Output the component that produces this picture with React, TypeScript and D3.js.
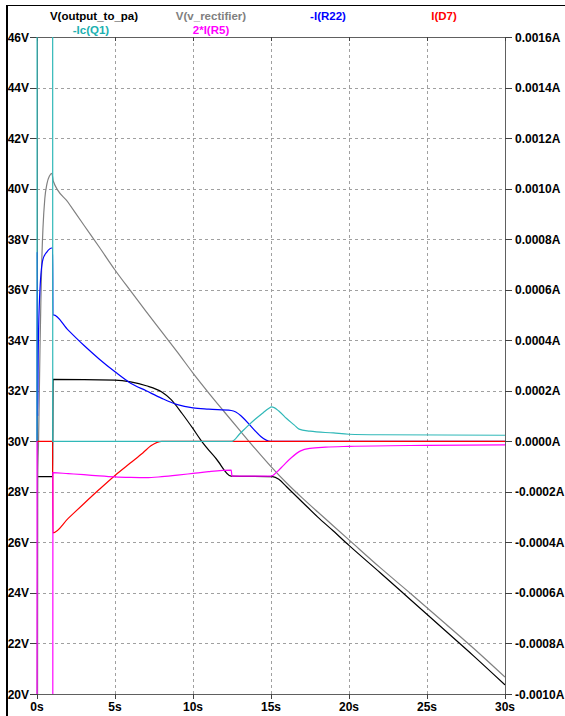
import React from "react";
import * as d3 from "d3";

// Transient simulation traces, time in seconds
const outputToPa: [number, number][] = [
  [0, 0], [0.03, 28.6], [1.0, 28.6], [1.03, 32.45], [5, 32.42], [6, 32.35], [7, 32.2],
  [8, 31.95], [8.6, 31.65], [9.3, 31.1], [10, 30.5], [10.5, 30.05], [11.5, 29.3],
  [12.45, 28.62], [15.1, 28.6], [15.5, 28.5], [16, 28.2], [17, 27.6], [18, 27.0],
  [19, 26.45], [20, 25.88], [22, 24.8], [24, 23.7], [26, 22.6], [28, 21.5], [30, 20.36],
];

const vRectifier: [number, number][] = [
  [0, 0], [0.05, 28.6], [0.1, 30], [0.19, 33.6], [0.25, 35.6], [0.31, 37.2], [0.38, 38.4],
  [0.5, 39.6], [0.64, 40.2], [0.8, 40.5], [0.96, 40.6], [1.04, 40.3], [2, 39.45],
  [3, 38.56], [4, 37.68], [5, 36.78], [6, 35.95], [7, 35.13], [8, 34.33], [9, 33.53],
  [10, 32.7], [11, 31.92], [12, 31.17], [13, 30.43], [14, 29.7], [15, 29.0], [16, 28.35],
  [17, 27.76], [18, 27.2], [19, 26.65], [20, 26.1], [22, 25.0], [24, 23.95], [26, 22.88],
  [28, 21.8], [30, 20.67],
];

const iR22Neg: [number, number][] = [
  [0, 0], [0.01, 0.00075], [0.04, 0.0001], [0.08, 0.00036], [0.19, 0.0006], [0.38, 0.00072],
  [0.64, 0.00075], [0.95, 0.000765], [1.0, 0.000765], [1.02, 0.0005], [1.05, 0.0005],
  [2, 0.00044], [3, 0.00038], [4, 0.000325], [5, 0.000275], [6, 0.00023], [7, 0.0002],
  [8, 0.00017], [9, 0.000145], [10, 0.000132], [11, 0.000127], [12.45, 0.000122],
  [15.0, 0], [30, 0],
];

const iD7: [number, number][] = [
  [0, 0], [1.0, 0], [1.02, -0.000362], [2, -0.000305], [3, -0.000247], [4, -0.00019],
  [5, -0.000135], [6, -0.000085], [6.8, -0.000045], [7.3, -0.000018], [7.7, -0.000004],
  [8.0, 0], [30, 0],
];

const icQ1Neg: [number, number][] = [
  [0, 0], [0.01, 0.003], [1.0, 0.003], [1.01, 0], [12.48, 0], [13.0, 0.00003],
  [13.5, 0.00006], [14.0, 0.000088], [14.5, 0.000113], [14.85, 0.00013], [15.04, 0.000136],
  [15.5, 0.00012], [16.0, 0.00009], [16.5, 0.000064], [16.8, 0.000048], [17.5, 0.00004],
  [19, 0.000033], [20, 0.000028], [22, 0.000026], [30, 0.000024],
];

const iR5x2: [number, number][] = [
  [0, 0], [0.01, -0.003], [1.0, -0.003], [1.02, -0.000124], [2, -0.000128], [3, -0.000132],
  [4, -0.000137], [5, -0.000141], [6, -0.000143], [7, -0.000144], [8, -0.00014],
  [9, -0.000134], [10, -0.000127], [11, -0.00012], [12.45, -0.000114], [12.5, -0.000138],
  [15.0, -0.000138], [15.4, -0.00012], [15.8, -0.000095], [16.3, -0.000065],
  [16.9, -0.000038], [17.5, -0.000028], [18.5, -0.000023], [20, -0.00002],
  [25, -0.000016], [30, -0.000014],
];

const voltTicks = [20, 22, 24, 26, 28, 30, 32, 34, 36, 38, 40, 42, 44, 46];
const ampTicks = [-0.001, -0.0008, -0.0006, -0.0004, -0.0002, 0, 0.0002, 0.0004, 0.0006, 0.0008, 0.001, 0.0012, 0.0014, 0.0016];
const timeTicks = [0, 5, 10, 15, 20, 25, 30];

const legendRow1 = [
  { label: "V(output_to_pa)", color: "#000000", cx: 94 },
  { label: "V(v_rectifier)", color: "#808080", cx: 211 },
  { label: "-I(R22)", color: "#0000ff", cx: 328 },
  { label: "I(D7)", color: "#ff0000", cx: 444 },
];
const legendRow2 = [
  { label: "-Ic(Q1)", color: "#20b0b0", cx: 91 },
  { label: "2*I(R5)", color: "#ff00ff", cx: 211 },
];

const W = 565;
const H = 716;
const L = 37;
const R = 505;
const T = 37;
const B = 694;
const FONT = "'Liberation Sans', Arial, sans-serif";

export default function App() {
  const x = d3.scaleLinear().domain([0, 30]).range([L, R]);
  const yV = d3.scaleLinear().domain([20, 46]).range([B, T]);
  const yA = d3.scaleLinear().domain([-0.001, 0.0016]).range([B, T]);

  const lineV = d3.line<[number, number]>().x((d) => x(d[0])).y((d) => yV(d[1])).curve(d3.curveMonotoneX);
  const lineA = d3.line<[number, number]>().x((d) => x(d[0])).y((d) => yA(d[1])).curve(d3.curveMonotoneX);

  const fmtA = (v: number) => `${v < -1e-12 ? "-" : ""}${Math.abs(v).toFixed(4)}A`;

  const traces = [
    { d: lineV(outputToPa), c: "#000000" },
    { d: lineV(vRectifier), c: "#808080" },
    { d: lineA(iR22Neg), c: "#0000ff" },
    { d: lineA(iD7), c: "#ff0000" },
    { d: lineA(icQ1Neg), c: "#30b8b8" },
    { d: lineA(iR5x2), c: "#ff00ff" },
  ];

  return (
    <svg width={W} height={H} style={{ position: "absolute", left: 0, top: 0, background: "#fff" }}>
      <rect x={0} y={0} width={W} height={H} fill="#fff" />
      {/* window edges */}
      <line x1={7} y1={5.5} x2={W} y2={5.5} stroke="#000" strokeWidth={1} />
      <line x1={7} y1={5} x2={7} y2={H} stroke="#000" strokeWidth={2} />

      <defs>
        <clipPath id="plotClip">
          <rect x={L - 1} y={T} width={R - L + 1} height={B - T} />
        </clipPath>
      </defs>

      {/* grid */}
      {voltTicks.filter((v) => v !== 20 && v !== 46).map((v) => (
        <line key={"gh" + v} x1={L} x2={R} y1={Math.round(yV(v)) + 0.5} y2={Math.round(yV(v)) + 0.5}
          stroke="#a0a0a0" strokeDasharray="3,3" />
      ))}
      {timeTicks.filter((t) => t !== 0 && t !== 30).map((t) => (
        <line key={"gv" + t} x1={Math.round(x(t)) + 0.5} x2={Math.round(x(t)) + 0.5} y1={T} y2={B}
          stroke="#a0a0a0" strokeDasharray="3,3" />
      ))}

      {/* frame */}
      <rect x={L + 0.5} y={T + 0.5} width={R - L} height={B - T} fill="none" stroke="#606060" />

      {/* left axis */}
      {voltTicks.map((v) => (
        <g key={"lv" + v}>
          <line x1={30} x2={L} y1={Math.round(yV(v)) + 0.5} y2={Math.round(yV(v)) + 0.5} stroke="#404040" />
          <text x={29} y={yV(v) + 4.5} textAnchor="end" fontFamily={FONT} fontWeight="bold" fontSize={12} fill="#000">
            {v}V
          </text>
        </g>
      ))}

      {/* right axis */}
      {ampTicks.map((v) => (
        <g key={"ra" + v}>
          <line x1={R} x2={512} y1={Math.round(yA(v)) + 0.5} y2={Math.round(yA(v)) + 0.5} stroke="#404040" />
          <text x={515} y={yA(v) + 4.5} textAnchor="start" fontFamily={FONT} fontWeight="bold" fontSize={12} fill="#000">
            {fmtA(v)}
          </text>
        </g>
      ))}

      {/* bottom axis */}
      {timeTicks.map((t) => (
        <g key={"bt" + t}>
          <line x1={Math.round(x(t)) + 0.5} x2={Math.round(x(t)) + 0.5} y1={B} y2={B + 5} stroke="#404040" />
          <line x1={Math.round(x(t)) + 0.5} x2={Math.round(x(t)) + 0.5} y1={T} y2={T + 4} stroke="#404040" />
          <text x={x(t)} y={711} textAnchor="middle" fontFamily={FONT} fontWeight="bold" fontSize={12} fill="#000">
            {t}s
          </text>
        </g>
      ))}

      {/* traces */}
      <g clipPath="url(#plotClip)">
        {traces.map((tr, i) => (
          <path key={"tr" + i} d={tr.d || ""} fill="none" stroke={tr.c} strokeWidth={1.2} />
        ))}
      </g>

      {/* legend */}
      {legendRow1.map((l) => (
        <text key={l.label} x={l.cx} y={20} textAnchor="middle" fontFamily={FONT} fontWeight="bold" fontSize={11.5} fill={l.color}>
          {l.label}
        </text>
      ))}
      {legendRow2.map((l) => (
        <text key={l.label} x={l.cx} y={34} textAnchor="middle" fontFamily={FONT} fontWeight="bold" fontSize={11.5} fill={l.color}>
          {l.label}
        </text>
      ))}
    </svg>
  );
}
